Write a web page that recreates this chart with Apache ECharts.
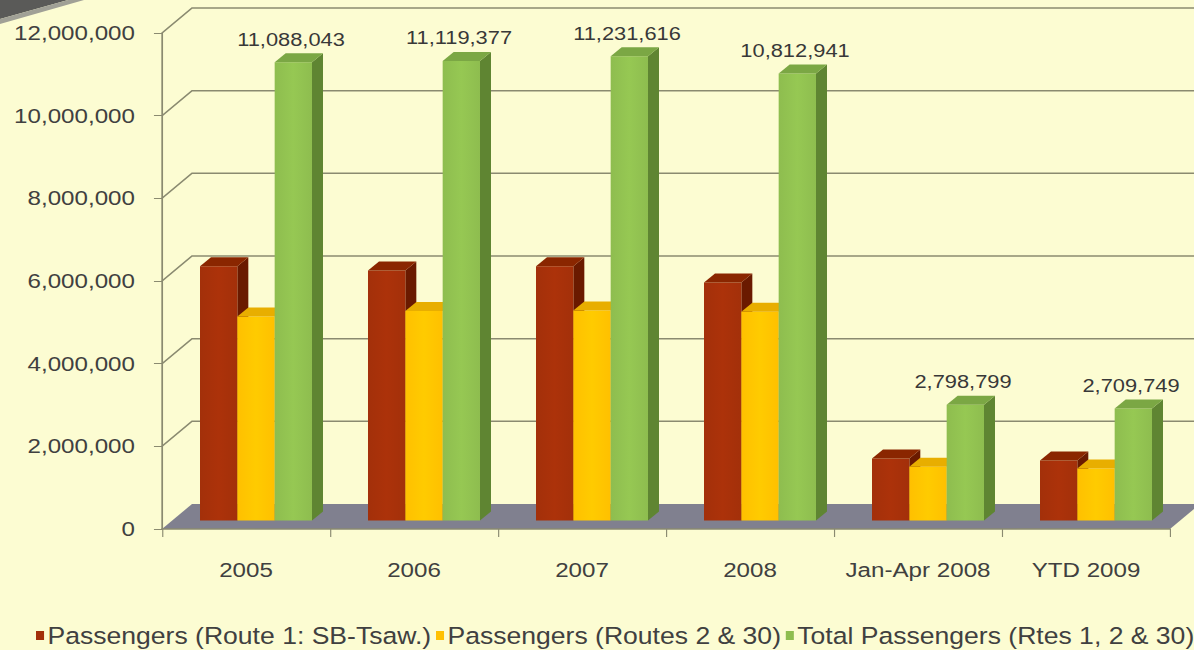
<!DOCTYPE html>
<html>
<head>
<meta charset="utf-8">
<script src="https://cdn.jsdelivr.net/npm/echarts@6/dist/echarts.min.js"></script>
<style>
html,body{margin:0;padding:0;background:#fcfcd2;overflow:hidden;}
#chart{width:1038px;height:650px;transform:scaleX(1.1503);transform-origin:0 0;}
</style>
</head>
<body>
<div id="chart"></div>
<script>
const categories = ['2005', '2006', '2007', '2008', 'Jan-Apr 2008', 'YTD 2009'];
const route1 = [6150000, 6050000, 6150000, 5760000, 1500000, 1450000];
const routes230 = [4938043, 5069377, 5081616, 5052941, 1298799, 1259749];
const totalPassengers = [11088043, 11119377, 11231616, 10812941, 2798799, 2709749];
const seriesNames = ['Passengers (Route 1: SB-Tsaw.)', 'Passengers (Routes 2 & 30)', 'Total Passengers (Rtes 1, 2 & 30)'];
const yTicks = [0, 2000000, 4000000, 6000000, 8000000, 10000000, 12000000];

const fmt = v => String(Math.round(v)).replace(/\B(?=(\d{3})+(?!\d))/g, ',');

// the original picture is horizontally stretched; the page is drawn narrower and stretched by CSS
const SX = 1.1503;
// projection offsets (visual style only, in unstretched pixels)
const WALL = [30 / SX, -25];
const FACE = [10 / SX, -8.5];
const DEPTH = [11 / SX, -9];

const faceColors = ['#a3300a', '#ffc000', '#8ebd4f'];
const topColors = ['#8a2600', '#e8ae00', '#7ba744'];
const sideColors = ['#6a1a00', '#c99600', '#5f8532'];

function barRender(k, withLabel) {
  return function (params, api) {
    const idx = api.value(0), val = api.value(1);
    const base = api.coord([idx, 0]);
    const top = api.coord([idx, val]);
    const band = api.size([1, 0])[0];
    const bw = band * 2 / 9;
    const x0 = base[0] - 1.5 * bw + k * bw + FACE[0];
    const x1 = x0 + bw;
    const yb = base[1] + FACE[1];
    const yt = top[1] + FACE[1];
    const children = [
      { type: 'polygon', shape: { points: [[x1, yt], [x1 + DEPTH[0], yt + DEPTH[1]], [x1 + DEPTH[0], yb + DEPTH[1]], [x1, yb]] },
        style: { fill: sideColors[k] } },
      { type: 'rect', shape: { x: x0, y: yt, width: bw, height: yb - yt },
        style: { fill: new echarts.graphic.LinearGradient(0, 0, 1, 0, [
          { offset: 0, color: faceColors[k] }, { offset: 0.5, color: echarts.color.lift(faceColors[k], -0.06) }, { offset: 1, color: faceColors[k] }]) } },
      { type: 'polygon', shape: { points: [[x0, yt], [x1, yt], [x1 + DEPTH[0], yt + DEPTH[1]], [x0 + DEPTH[0], yt + DEPTH[1]]] },
        style: { fill: topColors[k] } }
    ];
    if (withLabel) {
      children.push({ type: 'text', style: { text: fmt(val), x: (x0 + x1) / 2 - 2, y: yt + DEPTH[1] - 5,
        textAlign: 'center', textVerticalAlign: 'bottom', fill: '#383838',
        font: '19px "Liberation Sans", Arial, sans-serif' } });
    }
    return { type: 'group', children };
  };
}

function wallRender(params, api) {
  const cs = params.coordSys;
  const v = api.value(1);
  const y = api.coord([0, v])[1];
  const left = cs.x, right = cs.x + cs.width;
  if (v === 0) {
    return { type: 'polygon', shape: { points: [[left, y], [right, y], [right + WALL[0], y + WALL[1]], [left + WALL[0], y + WALL[1]]] },
      style: { fill: '#80808f' } };
  }
  return { type: 'polyline', shape: { points: [[left, y], [left + WALL[0], y + WALL[1]], [right + WALL[0] + 20, y + WALL[1]]] },
    style: { stroke: '#8a8a70', lineWidth: 1.5, fill: null } };
}

const chart = echarts.init(document.getElementById('chart'), null, { renderer: 'svg' });
const seriesData = [route1, routes230, totalPassengers];
const option = {
  backgroundColor: '#fcfcd2',
  animation: false,
  grid: { left: 162 / SX, right: 1038 - 1170 / SX, top: 33, bottom: 121 },
  graphic: [
    { type: 'polygon', shape: { points: [[0, 0], [68 / SX, 0], [0, 19]] }, style: { fill: '#5a5a58' } },
    { type: 'polygon', shape: { points: [[0, 19], [68 / SX, 0], [84 / SX, 0], [0, 24]] }, style: { fill: '#a0a096' } }
  ],
  legend: {
    data: seriesNames,
    left: 36 / SX, top: 624, width: 1036, padding: 0,
    icon: 'rect', itemWidth: 7, itemHeight: 9, itemGap: 4,
    textStyle: { fontFamily: 'Liberation Sans', fontSize: 23.1, color: '#404040', padding: [0, 0, 0, -2] }
  },
  xAxis: {
    type: 'category', data: categories,
    axisLine: { show: true, lineStyle: { color: '#8a8a70', width: 1.5 } },
    axisTick: { show: true, length: 8, lineStyle: { color: '#8a8a70' } },
    axisLabel: { interval: 0, margin: 31, fontFamily: 'Liberation Sans', fontSize: 21, color: '#404040' },
    z: 10
  },
  yAxis: {
    type: 'value', min: 0, max: 12000000, interval: 2000000,
    axisLine: { show: true, lineStyle: { color: '#8a8a70', width: 1.5 } },
    axisTick: { show: true, length: 7, lineStyle: { color: '#8a8a70' } },
    axisLabel: { margin: 23.5, fontFamily: 'Liberation Sans', fontSize: 21, color: '#404040', formatter: v => fmt(v) },
    splitLine: { show: false }
  },
  series: [
    { type: 'custom', name: '_wall', renderItem: wallRender, data: yTicks.map(v => [0, v]), encode: { x: 0, y: 1 }, silent: true, z: 1 }
  ].concat(seriesData.map((arr, k) => ({
    type: 'custom', name: seriesNames[k],
    itemStyle: { color: faceColors[k] },
    renderItem: barRender(k, k === 2),
    data: arr.map((v, i) => [i, v]),
    encode: { x: 0, y: 1 }, z: 3
  })))
};
chart.setOption(option);
</script>
</body>
</html>
